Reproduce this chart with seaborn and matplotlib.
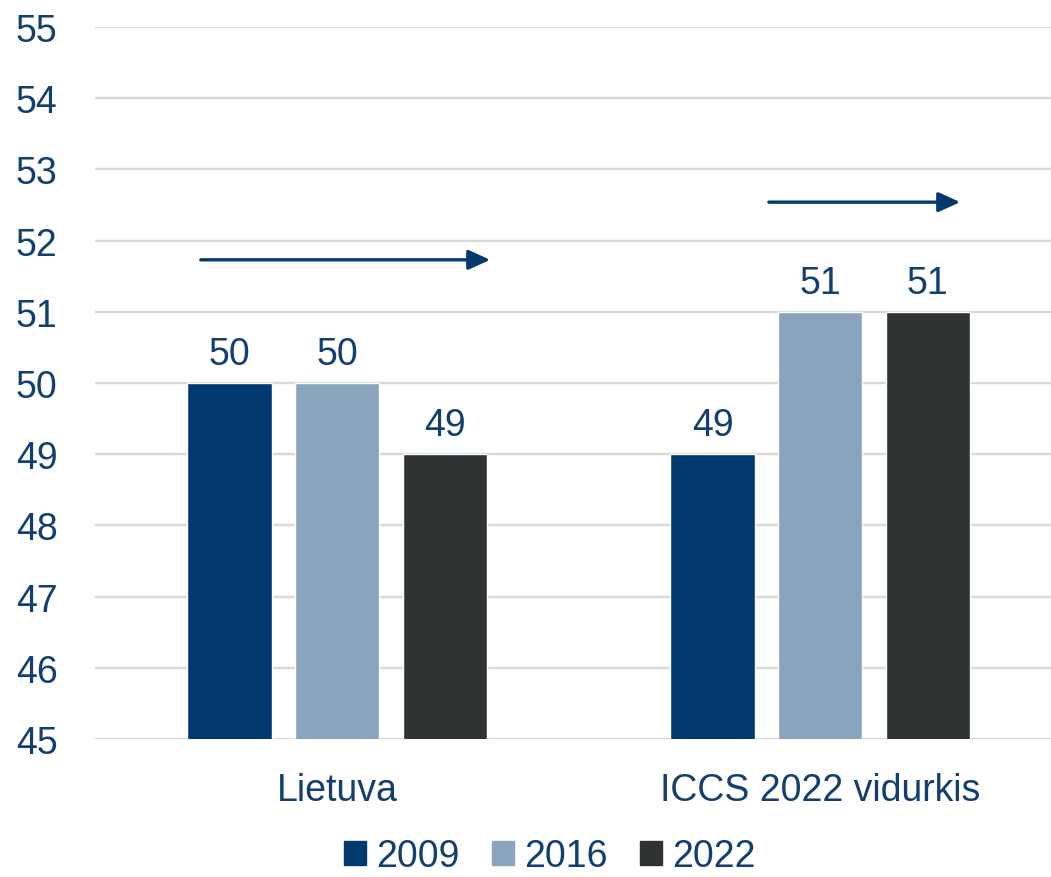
import matplotlib
matplotlib.use("Agg")
import matplotlib.pyplot as plt
import seaborn as sns
import pandas as pd

groups = ["Lietuva", "ICCS 2022 vidurkis"]
years = ["2009", "2016", "2022"]
values_2009 = [50, 49]
values_2016 = [50, 51]
values_2022 = [49, 51]
colors = ["#023a70", "#8ba4bd", "#2f3332"]
y_ticks = [45, 46, 47, 48, 49, 50, 51, 52, 53, 54, 55]

text_color = "#123f6f"
font_size = 27

sns.set_theme(style="white")
plt.rcParams["font.family"] = ["Liberation Sans", "DejaVu Sans"]

rows = []
for year, vals in zip(years, [values_2009, values_2016, values_2022]):
    for g, v in zip(groups, vals):
        rows.append({"group": g, "year": year, "value": v})
df = pd.DataFrame(rows)

fig = plt.figure(figsize=(10.51, 8.78), dpi=100)
ax = fig.add_axes([0.0904, 0.1572, 0.9096, 0.8109])

sns.barplot(data=df, x="group", y="value", hue="year", order=groups,
            hue_order=years, palette=colors, width=0.668, gap=0.218,
            saturation=1, ax=ax, legend=False)

for cont in ax.containers:
    ax.bar_label(cont, fmt="%d", padding=8, fontsize=font_size, color=text_color)

ax.set_ylim(45, 55)
ax.set_xlim(-0.501, 1.478)
ax.set_yticks(y_ticks)
ax.yaxis.grid(True, color="#d9d9d9", linewidth=1.7)
ax.set_axisbelow(True)
for s in ax.spines.values():
    s.set_visible(False)
ax.tick_params(axis="y", length=0, pad=27, labelsize=font_size, labelcolor=text_color)
ax.tick_params(axis="x", length=0, pad=24, labelsize=font_size, labelcolor=text_color)
ax.set_xlabel("")
ax.set_ylabel("")

# trend arrows above each group
arrows = [((-0.282, 51.73), (0.317, 51.73)), ((0.894, 52.54), (1.29, 52.54))]
for start, end in arrows:
    ax.annotate("", xy=end, xytext=start,
                arrowprops=dict(arrowstyle="-|>,head_length=1.1,head_width=0.5",
                                color="#023a70", lw=2.4, shrinkA=0, shrinkB=0))

handles = [plt.Rectangle((0, 0), 1, 1, color=c) for c in colors]
fig.legend(handles, years, loc="center", bbox_to_anchor=(0.523, 0.024),
           ncol=3, frameon=False, fontsize=font_size, labelcolor=text_color,
           handlelength=0.6, handleheight=0.6, handletextpad=0.27,
           columnspacing=0.85)

fig.savefig("out.png", dpi=100)
